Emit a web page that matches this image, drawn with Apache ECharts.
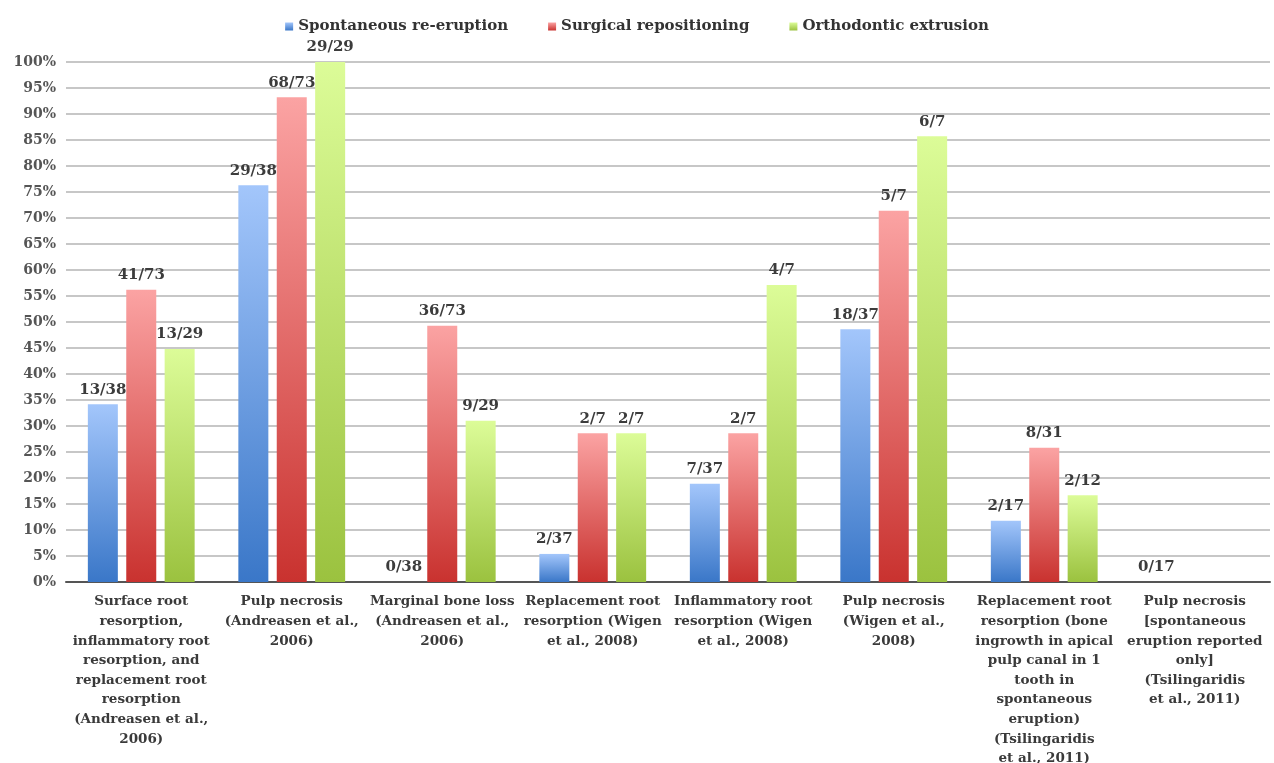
<!DOCTYPE html>
<html>
<head>
<meta charset="utf-8">
<script src="https://cdn.jsdelivr.net/npm/echarts@6/dist/echarts.min.js"></script>
<style>
  html, body { margin: 0; padding: 0; background: #fff; }
  #chart { width: 1274px; height: 763px; }
</style>
</head>
<body>
<div id="chart"></div>
<script>
const categories = [
  'Surface root\nresorption,\ninflammatory root\nresorption, and\nreplacement root\nresorption\n(Andreasen et al.,\n2006)',
  'Pulp necrosis\n(Andreasen et al.,\n2006)',
  'Marginal bone loss\n(Andreasen et al.,\n2006)',
  'Replacement root\nresorption (Wigen\net al., 2008)',
  'Inflammatory root\nresorption (Wigen\net al., 2008)',
  'Pulp necrosis\n(Wigen et al.,\n2008)',
  'Replacement root\nresorption (bone\ningrowth in apical\npulp canal in 1\ntooth in\nspontaneous\neruption)\n(Tsilingaridis\net al., 2011)',
  'Pulp necrosis\n[spontaneous\neruption reported\nonly]\n(Tsilingaridis\net al., 2011)'
];

const seriesNames = ['Spontaneous re-eruption', 'Surgical repositioning', 'Orthodontic extrusion'];

// percent values
const spontaneousValues = [34.2, 76.3, 0, 5.4, 18.9, 48.6, 11.8, 0];
const surgicalValues = [56.2, 93.2, 49.3, 28.6, 28.6, 71.4, 25.8, null];
const orthodonticValues = [44.8, 100, 31.0, 28.6, 57.1, 85.7, 16.7, null];

// fraction labels printed above the bars
const spontaneousLabels = ['13/38', '29/38', '0/38', '2/37', '7/37', '18/37', '2/17', '0/17'];
const surgicalLabels = ['41/73', '68/73', '36/73', '2/7', '2/7', '5/7', '8/31', ''];
const orthodonticLabels = ['13/29', '29/29', '9/29', '2/7', '4/7', '6/7', '2/12', ''];

const yTicks = [0, 5, 10, 15, 20, 25, 30, 35, 40, 45, 50, 55, 60, 65, 70, 75, 80, 85, 90, 95, 100];

const FONT = "'DejaVu Serif', serif";

const gradient = (top, bottom) =>
  new echarts.graphic.LinearGradient(0, 0, 0, 1, [
    { offset: 0, color: top },
    { offset: 1, color: bottom }
  ]);

const palette = [
  gradient('#a3c6fb', '#3a77c8'),
  gradient('#fba3a3', '#c9322f'),
  gradient('#dcfc98', '#9bc23f')
];

function buildSeries(name, values, labels, idx) {
  return {
    name,
    type: 'bar',
    barWidth: 30,
    barGap: '28%',
    itemStyle: { color: palette[idx] },
    label: {
      show: true,
      position: 'top',
      distance: 7,
      fontFamily: FONT,
      fontSize: 15,
      fontWeight: 'bold',
      color: '#3c3c3c',
      formatter: (p) => labels[p.dataIndex]
    },
    data: values
  };
}

const chart = echarts.init(document.getElementById('chart'));

chart.setOption({
  animation: false,
  color: ['#4f87d6', '#d9484a', '#a9d04e'],
  legend: {
    top: 14,
    left: 'center',
    itemWidth: 8,
    itemHeight: 8,
    itemGap: 40,
    icon: 'rect',
    textStyle: { fontFamily: FONT, fontSize: 15, fontWeight: 'bold', color: '#333' },
    data: seriesNames
  },
  grid: { left: 66, right: 4, top: 62, bottom: 181, outerBoundsMode: 'none' },
  xAxis: {
    type: 'category',
    data: categories,
    axisTick: { show: false },
    axisLine: { lineStyle: { color: '#555', width: 2 } },
    axisLabel: {
      interval: 0,
      margin: 10,
      fontFamily: FONT,
      fontSize: 13.5,
      fontWeight: 'bold',
      lineHeight: 19.6,
      color: '#3a3a3a',
      align: 'center',
      verticalAlign: 'top'
    }
  },
  yAxis: {
    type: 'value',
    min: 0,
    max: 100,
    interval: 5,
    axisLine: { show: false },
    axisTick: { show: false },
    splitLine: { lineStyle: { color: '#b4b4b4', width: 1.5 } },
    axisLabel: {
      margin: 10,
      fontFamily: FONT,
      fontSize: 14,
      fontWeight: 'bold',
      color: '#555',
      formatter: (v) => (yTicks.includes(v) ? v + '%' : '')
    }
  },
  series: [
    buildSeries(seriesNames[0], spontaneousValues, spontaneousLabels, 0),
    buildSeries(seriesNames[1], surgicalValues, surgicalLabels, 1),
    buildSeries(seriesNames[2], orthodonticValues, orthodonticLabels, 2)
  ]
});
</script>
</body>
</html>
